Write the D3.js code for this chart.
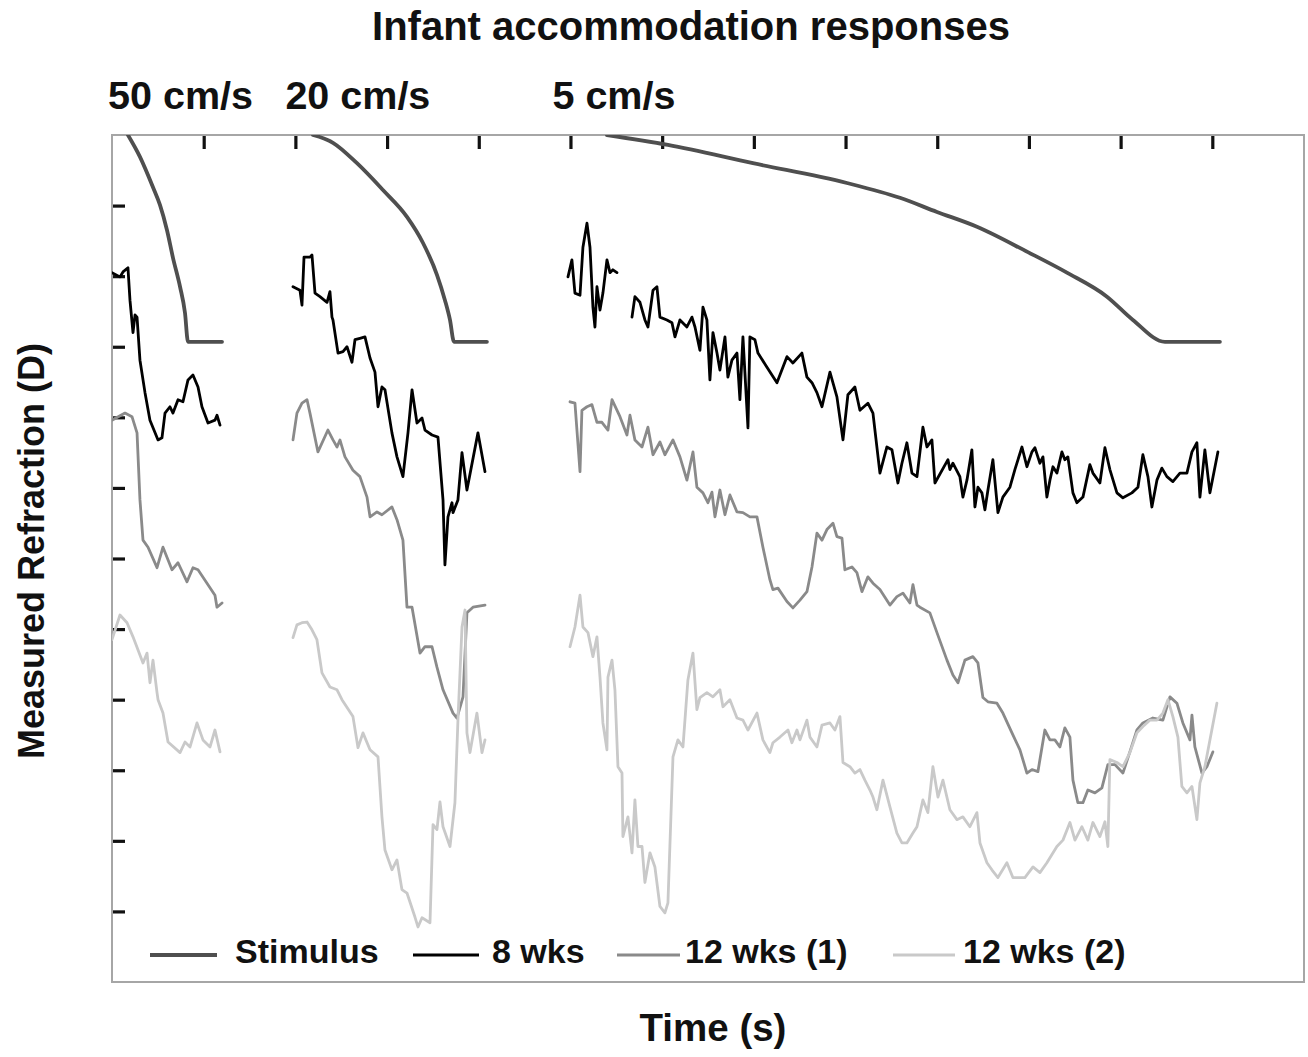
<!DOCTYPE html>
<html><head><meta charset="utf-8">
<script src="https://cdn.jsdelivr.net/npm/d3@7"></script>
<style>
body{margin:0;background:#fff}
svg{display:block}
text{font-family:"Liberation Sans",Arial,Helvetica,sans-serif;font-weight:bold;fill:#111}
</style>
</head><body>
<svg id="chart" width="1308" height="1057"></svg>
<script>
// ---------- text ----------
const chartTitle = "Infant accommodation responses";
const xLabel = "Time (s)";
const yLabel = "Measured Refraction (D)";
const panelLabels = ["50 cm/s", "20 cm/s", "5 cm/s"];
const panelStarts = [0, 2, 5];            // s, on the shared time line
const seriesNames = ["Stimulus", "8 wks", "12 wks (1)", "12 wks (2)"];

// ---------- ticks (unlabelled) ----------
const xTickValues = [1, 2, 3, 4, 5, 6, 7, 8, 9, 10, 11, 12];
const yTickValues = [-1, -2, -3, -4, -5, -6, -7, -8, -9, -10, -11];

// ---------- data: [time (s), refraction (D)] ----------
// 50 cm/s
const stimulus50 = [[0.174,0],[0.305,-0.31],[0.447,-0.74],[0.523,-0.99],[0.6,-1.35],[0.665,-1.74],[0.742,-2.15],[0.796,-2.52],[0.829,-2.93],[1.2,-2.93]];
const wks8_50 = [[0,-1.95],[0.087,-2.01],[0.12,-1.94],[0.174,-1.88],[0.196,-2.34],[0.229,-2.80],[0.251,-2.55],[0.273,-2.58],[0.305,-3.19],[0.36,-3.65],[0.414,-4.04],[0.502,-4.32],[0.545,-4.29],[0.578,-3.94],[0.632,-3.85],[0.665,-3.94],[0.72,-3.75],[0.774,-3.78],[0.829,-3.47],[0.883,-3.40],[0.938,-3.57],[0.981,-3.85],[1.047,-4.08],[1.123,-4.04],[1.145,-3.97],[1.178,-4.11]];
const wks12a_50 = [[0,-4.04],[0.142,-3.94],[0.218,-3.99],[0.273,-4.22],[0.305,-5.17],[0.338,-5.74],[0.393,-5.84],[0.491,-6.13],[0.556,-5.84],[0.654,-6.16],[0.72,-6.06],[0.818,-6.33],[0.883,-6.13],[0.938,-6.16],[1.036,-6.35],[1.123,-6.52],[1.145,-6.69],[1.2,-6.63]];
const wks12b_50 = [[0,-7.15],[0.087,-6.80],[0.164,-6.91],[0.229,-7.11],[0.338,-7.48],[0.382,-7.34],[0.414,-7.76],[0.447,-7.44],[0.491,-7.90],[0.502,-8.00],[0.556,-8.19],[0.611,-8.60],[0.742,-8.75],[0.796,-8.60],[0.851,-8.67],[0.927,-8.33],[0.992,-8.57],[1.069,-8.67],[1.123,-8.43],[1.178,-8.74]];

// 20 cm/s
const stimulus20 = [[2.192,0],[2.410,-0.11],[2.672,-0.40],[2.955,-0.78],[3.217,-1.16],[3.392,-1.53],[3.544,-1.98],[3.631,-2.34],[3.686,-2.62],[3.730,-2.93],[4.089,-2.93]];
const wks8_20 = [[1.974,-2.15],[2.050,-2.20],[2.072,-2.41],[2.094,-1.73],[2.159,-1.73],[2.181,-1.70],[2.214,-2.24],[2.268,-2.29],[2.345,-2.37],[2.377,-2.22],[2.399,-2.58],[2.410,-2.62],[2.465,-3.09],[2.519,-3.07],[2.563,-3.00],[2.617,-3.22],[2.650,-2.90],[2.704,-2.88],[2.759,-2.86],[2.814,-3.16],[2.868,-3.36],[2.901,-3.85],[2.944,-3.57],[2.977,-3.61],[3.053,-4.22],[3.108,-4.56],[3.173,-4.84],[3.228,-4.22],[3.272,-3.61],[3.326,-4.08],[3.381,-4.01],[3.413,-4.18],[3.490,-4.25],[3.555,-4.28],[3.610,-5.17],[3.631,-6.09],[3.664,-5.41],[3.708,-5.21],[3.719,-5.35],[3.773,-5.17],[3.817,-4.50],[3.871,-5.03],[3.991,-4.22],[4.068,-4.77]];
const wks12a_20 = [[1.974,-4.32],[2.017,-3.94],[2.072,-3.80],[2.127,-3.75],[2.159,-3.94],[2.246,-4.49],[2.355,-4.18],[2.410,-4.32],[2.454,-4.42],[2.486,-4.32],[2.541,-4.56],[2.628,-4.75],[2.704,-4.84],[2.781,-5.13],[2.814,-5.41],[2.890,-5.34],[2.944,-5.38],[3.053,-5.27],[3.108,-5.45],[3.173,-5.74],[3.217,-6.69],[3.272,-6.69],[3.359,-7.34],[3.413,-7.25],[3.490,-7.25],[3.544,-7.54],[3.610,-7.86],[3.719,-8.19],[3.762,-8.26],[3.828,-7.96],[3.871,-6.77],[3.937,-6.69],[4.068,-6.66]];
const wks12b_20 = [[1.974,-7.12],[2.017,-6.94],[2.072,-6.91],[2.127,-6.90],[2.181,-7.01],[2.235,-7.15],[2.290,-7.62],[2.377,-7.82],[2.454,-7.86],[2.508,-8.00],[2.628,-8.24],[2.683,-8.68],[2.737,-8.47],[2.814,-8.71],[2.901,-8.81],[2.944,-9.66],[2.977,-10.13],[3.053,-10.41],[3.108,-10.27],[3.162,-10.69],[3.217,-10.74],[3.304,-11.08],[3.337,-11.22],[3.381,-11.09],[3.468,-11.16],[3.501,-9.77],[3.544,-9.84],[3.577,-9.45],[3.610,-9.80],[3.686,-10.08],[3.740,-9.46],[3.773,-8.29],[3.817,-6.97],[3.850,-6.73],[3.871,-8.47],[3.904,-8.75],[3.980,-8.19],[4.035,-8.75],[4.068,-8.57]];

// 5 cm/s
const stimulus5 = [[5.398,0],[6.063,-0.14],[6.990,-0.40],[8.015,-0.68],[8.593,-0.89],[8.997,-1.09],[9.433,-1.30],[9.989,-1.66],[10.414,-1.95],[10.851,-2.29],[11.134,-2.62],[11.483,-2.93],[12.083,-2.93]];
const wks8_5a = [[4.973,-2.01],[5.016,-1.77],[5.049,-2.24],[5.104,-2.27],[5.136,-1.59],[5.180,-1.25],[5.213,-1.59],[5.245,-2.44],[5.267,-2.72],[5.289,-2.15],[5.322,-2.48],[5.354,-2.24],[5.398,-1.77],[5.431,-1.95],[5.463,-1.91],[5.507,-1.95]];
const wks8_5b = [[5.671,-2.58],[5.703,-2.29],[5.758,-2.37],[5.812,-2.62],[5.845,-2.72],[5.900,-2.20],[5.943,-2.15],[5.976,-2.58],[6.052,-2.62],[6.107,-2.66],[6.140,-2.86],[6.194,-2.62],[6.270,-2.72],[6.325,-2.58],[6.358,-2.72],[6.412,-3.05],[6.445,-2.44],[6.488,-2.62],[6.521,-3.47],[6.554,-2.80],[6.598,-3.09],[6.630,-3.33],[6.685,-2.86],[6.717,-3.43],[6.761,-3.19],[6.816,-3.09],[6.848,-3.75],[6.881,-2.86],[6.936,-4.15],[6.957,-2.86],[7.012,-2.90],[7.045,-3.09],[7.143,-3.29],[7.252,-3.51],[7.361,-3.14],[7.426,-3.23],[7.524,-3.09],[7.579,-3.43],[7.634,-3.51],[7.688,-3.65],[7.743,-3.85],[7.830,-3.36],[7.906,-3.71],[7.972,-4.32],[8.026,-3.68],[8.102,-3.57],[8.157,-3.90],[8.244,-3.80],[8.299,-3.94],[8.375,-4.79],[8.451,-4.42],[8.506,-4.46],[8.571,-4.93],[8.615,-4.65],[8.669,-4.36],[8.724,-4.79],[8.779,-4.84],[8.844,-4.14],[8.888,-4.42],[8.942,-4.32],[8.975,-4.93],[9.117,-4.60],[9.138,-4.74],[9.171,-4.65],[9.247,-4.84],[9.280,-5.13],[9.324,-4.89],[9.378,-4.46],[9.411,-5.27],[9.444,-4.99],[9.487,-5.07],[9.520,-5.31],[9.553,-5.03],[9.607,-4.60],[9.662,-5.35],[9.716,-5.13],[9.793,-4.99],[9.847,-4.74],[9.924,-4.42],[9.978,-4.70],[10.033,-4.49],[10.065,-4.43],[10.120,-4.65],[10.153,-4.56],[10.196,-5.13],[10.229,-4.89],[10.262,-4.70],[10.305,-4.79],[10.360,-4.49],[10.392,-4.60],[10.425,-4.56],[10.480,-5.07],[10.523,-5.21],[10.589,-5.13],[10.665,-4.67],[10.698,-4.79],[10.774,-4.93],[10.829,-4.43],[10.883,-4.74],[10.960,-5.07],[11.025,-5.14],[11.123,-5.07],[11.189,-4.99],[11.243,-4.53],[11.298,-4.84],[11.341,-5.27],[11.396,-4.89],[11.450,-4.72],[11.505,-4.84],[11.570,-4.91],[11.647,-4.79],[11.723,-4.79],[11.778,-4.49],[11.832,-4.36],[11.865,-5.13],[11.919,-4.46],[11.974,-5.07],[12.061,-4.49]];
const wks12a_5 = [[4.995,-3.78],[5.049,-3.80],[5.104,-4.77],[5.125,-3.90],[5.180,-3.85],[5.234,-3.82],[5.289,-4.07],[5.343,-4.07],[5.409,-4.18],[5.453,-3.75],[5.540,-3.99],[5.616,-4.25],[5.649,-3.97],[5.703,-4.32],[5.780,-4.42],[5.845,-4.14],[5.900,-4.53],[5.976,-4.35],[6.030,-4.53],[6.118,-4.32],[6.194,-4.56],[6.270,-4.89],[6.336,-4.49],[6.379,-4.99],[6.445,-5.07],[6.499,-5.21],[6.543,-5.06],[6.576,-5.41],[6.630,-5.03],[6.685,-5.38],[6.739,-5.10],[6.816,-5.34],[6.881,-5.35],[6.957,-5.41],[7.034,-5.41],[7.099,-5.84],[7.175,-6.30],[7.208,-6.44],[7.263,-6.42],[7.361,-6.61],[7.426,-6.70],[7.503,-6.59],[7.579,-6.47],[7.634,-6.12],[7.688,-5.64],[7.743,-5.74],[7.797,-5.59],[7.863,-5.50],[7.906,-5.69],[7.961,-5.71],[7.993,-6.16],[8.070,-6.12],[8.124,-6.20],[8.179,-6.47],[8.244,-6.26],[8.299,-6.35],[8.375,-6.44],[8.484,-6.66],[8.560,-6.54],[8.626,-6.49],[8.702,-6.63],[8.735,-6.37],[8.779,-6.66],[8.811,-6.69],[8.920,-6.77],[8.997,-7.05],[9.106,-7.44],[9.171,-7.65],[9.226,-7.76],[9.302,-7.44],[9.389,-7.39],[9.444,-7.48],[9.498,-7.97],[9.553,-8.03],[9.651,-8.05],[9.716,-8.19],[9.815,-8.47],[9.902,-8.71],[9.978,-9.04],[10.033,-8.99],[10.098,-9.02],[10.174,-8.43],[10.229,-8.57],[10.283,-8.57],[10.338,-8.67],[10.392,-8.40],[10.447,-8.53],[10.480,-9.14],[10.534,-9.46],[10.589,-9.46],[10.643,-9.28],[10.720,-9.32],[10.796,-9.25],[10.861,-8.92],[10.938,-8.92],[11.025,-9.04],[11.101,-8.74],[11.178,-8.43],[11.243,-8.33],[11.352,-8.26],[11.461,-8.29],[11.538,-7.96],[11.614,-8.05],[11.679,-8.33],[11.756,-8.57],[11.778,-8.22],[11.810,-8.67],[11.887,-9.04],[11.941,-8.95],[12.006,-8.74]];
const wks12b_5 = [[4.995,-7.25],[5.049,-6.97],[5.104,-6.52],[5.136,-6.97],[5.191,-7.05],[5.245,-7.39],[5.289,-7.11],[5.322,-7.68],[5.354,-8.33],[5.398,-8.71],[5.409,-7.68],[5.453,-7.44],[5.485,-7.86],[5.518,-8.95],[5.562,-9.04],[5.572,-9.94],[5.627,-9.66],[5.671,-10.17],[5.703,-9.42],[5.736,-10.08],[5.780,-10.08],[5.812,-10.59],[5.867,-10.17],[5.921,-10.37],[5.976,-10.93],[6.030,-11.02],[6.063,-10.88],[6.118,-8.81],[6.172,-8.57],[6.227,-8.67],[6.281,-7.72],[6.336,-7.34],[6.379,-8.14],[6.412,-7.97],[6.488,-7.90],[6.554,-7.96],[6.630,-7.86],[6.663,-8.10],[6.739,-8.00],[6.816,-8.26],[6.881,-8.29],[6.936,-8.43],[7.034,-8.19],[7.099,-8.57],[7.175,-8.75],[7.208,-8.61],[7.285,-8.53],[7.372,-8.43],[7.415,-8.61],[7.470,-8.43],[7.503,-8.57],[7.579,-8.29],[7.612,-8.53],[7.688,-8.67],[7.743,-8.36],[7.830,-8.33],[7.884,-8.43],[7.939,-8.24],[7.972,-8.89],[8.048,-8.95],[8.102,-9.04],[8.157,-8.99],[8.211,-9.14],[8.266,-9.28],[8.299,-9.38],[8.342,-9.56],[8.408,-9.14],[8.484,-9.52],[8.560,-9.89],[8.615,-10.03],[8.669,-10.03],[8.735,-9.89],[8.779,-9.80],[8.844,-9.42],[8.898,-9.60],[8.953,-8.95],[9.008,-9.38],[9.062,-9.14],[9.138,-9.56],[9.215,-9.70],[9.280,-9.66],[9.356,-9.80],[9.433,-9.60],[9.466,-10.03],[9.542,-10.31],[9.596,-10.41],[9.662,-10.52],[9.760,-10.31],[9.825,-10.52],[9.956,-10.52],[10.044,-10.37],[10.120,-10.45],[10.196,-10.31],[10.305,-10.08],[10.371,-9.99],[10.447,-9.74],[10.502,-9.99],[10.578,-9.80],[10.643,-9.99],[10.698,-9.74],[10.774,-9.94],[10.829,-9.73],[10.861,-10.08],[10.883,-8.85],[10.960,-8.89],[11.025,-8.95],[11.101,-8.75],[11.178,-8.47],[11.243,-8.38],[11.319,-8.29],[11.396,-8.29],[11.461,-8.19],[11.516,-8.00],[11.570,-8.24],[11.625,-8.53],[11.668,-9.23],[11.723,-9.32],[11.778,-9.23],[11.832,-9.70],[11.865,-9.18],[11.919,-8.95],[11.974,-8.57],[12.050,-8.05]];

// ---------- layout ----------
const frame = {left: 112, right: 1304, top: 135, bottom: 982};
const svg = d3.select("#chart");

const x = d3.scaleLinear().domain([0, 13]).range([frame.left, frame.right]);
const y = d3.scaleLinear().domain([0, -12]).range([frame.top, frame.bottom]);

const series = [
  {name: seriesNames[0], color: "#4f4f4f", width: 3.8, curve: d3.curveMonotoneX, segs: [stimulus50, stimulus20, stimulus5]},
  {name: seriesNames[1], color: "#000000", width: 2.8, curve: d3.curveLinear, segs: [wks8_50, wks8_20, wks8_5a, wks8_5b]},
  {name: seriesNames[2], color: "#8a8a8a", width: 2.8, curve: d3.curveLinear, segs: [wks12a_50, wks12a_20, wks12a_5]},
  {name: seriesNames[3], color: "#c9c9c9", width: 2.8, curve: d3.curveLinear, segs: [wks12b_50, wks12b_20, wks12b_5]}
];

// ticks (inward, no labels)
const topAxis = d3.axisTop(x).tickValues(xTickValues).tickSize(-14).tickFormat("");
const leftAxis = d3.axisLeft(y).tickValues(yTickValues).tickSize(-13).tickFormat("");
const gTop = svg.append("g").attr("transform", `translate(0,${frame.top})`).call(topAxis);
const gLeft = svg.append("g").attr("transform", `translate(${frame.left},0)`).call(leftAxis);
[gTop, gLeft].forEach(g => {
  g.select(".domain").remove();
  g.selectAll(".tick line").attr("stroke", "#111").attr("stroke-width", 3.2);
});

// frame
svg.append("rect")
  .attr("x", frame.left).attr("y", frame.top)
  .attr("width", frame.right - frame.left).attr("height", frame.bottom - frame.top)
  .attr("fill", "none").attr("stroke", "#a6a6a6").attr("stroke-width", 2);

// clip
svg.append("clipPath").attr("id", "plotclip").append("rect")
  .attr("x", frame.left).attr("y", frame.top)
  .attr("width", frame.right - frame.left).attr("height", frame.bottom - frame.top);

const plot = svg.append("g").attr("clip-path", "url(#plotclip)");
series.forEach(s => {
  const line = d3.line().x(d => x(d[0])).y(d => y(d[1])).curve(s.curve);
  plot.append("g").selectAll("path").data(s.segs).join("path")
    .attr("d", line)
    .attr("fill", "none")
    .attr("stroke", s.color)
    .attr("stroke-width", s.width)
    .attr("stroke-linejoin", "round")
    .attr("stroke-linecap", "round");
});

// title and panel labels
svg.append("text").attr("x", 691).attr("y", 40).attr("text-anchor", "middle")
  .style("font-size", "40px").text(chartTitle);
const labelShift = [-4, -10, -18];
panelLabels.forEach((lab, i) => {
  svg.append("text").attr("x", x(panelStarts[i]) + labelShift[i]).attr("y", 109)
    .style("font-size", "39.5px").text(lab);
});

// axis titles
svg.append("text").attr("x", 713).attr("y", 1041).attr("text-anchor", "middle")
  .style("font-size", "38.5px").text(xLabel);
svg.append("text").attr("transform", "translate(44,551) rotate(-90)").attr("text-anchor", "middle")
  .style("font-size", "36px").text(yLabel);

// legend
const legendLineX = [150, 413, 617, 893];
const legendLineLen = [67, 66, 63, 62];
const legendTextX = [235, 492, 685, 963];
const legendY = 955;
series.forEach((s, i) => {
  svg.append("line")
    .attr("x1", legendLineX[i]).attr("x2", legendLineX[i] + legendLineLen[i])
    .attr("y1", legendY).attr("y2", legendY)
    .attr("stroke", s.color).attr("stroke-width", i === 0 ? 4 : 3);
  svg.append("text").attr("x", legendTextX[i]).attr("y", legendY + 8)
    .style("font-size", "34px").text(s.name);
});
</script>
</body></html>
